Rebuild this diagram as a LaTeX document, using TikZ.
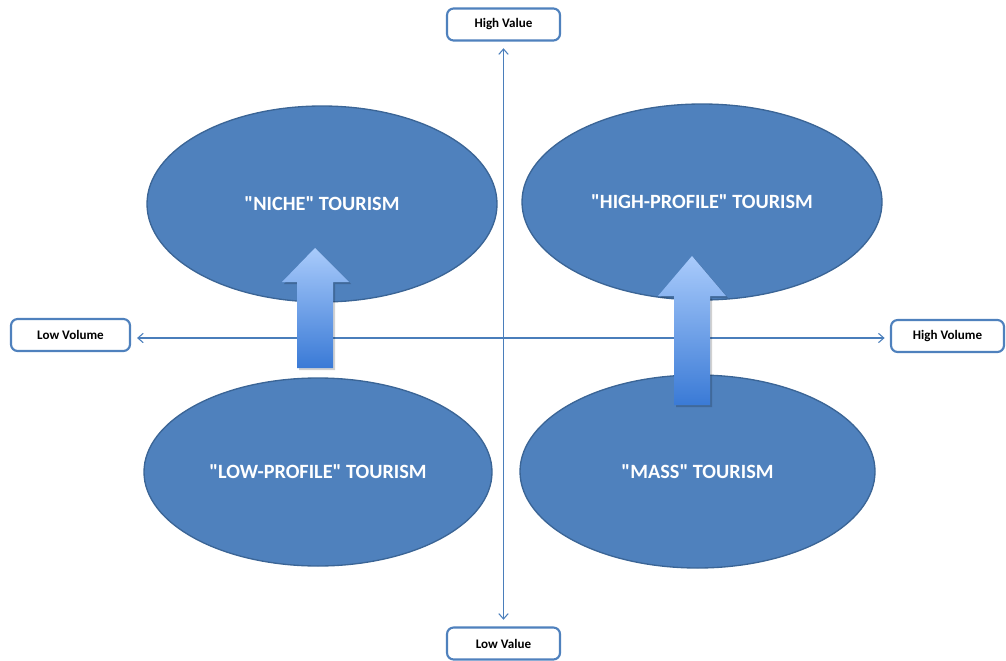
\documentclass[tikz,border=0pt]{standalone}
\usepackage{fontspec}
\setmainfont{Carlito}[Ligatures=TeXOff]
\usetikzlibrary{shapes.geometric,arrows.meta}
\definecolor{ellfill}{HTML}{4F81BD}
\definecolor{elldraw}{HTML}{3B6596}
\definecolor{axiscol}{HTML}{4A7EBB}
\definecolor{boxcol}{HTML}{4F81BD}
\definecolor{arrtop}{HTML}{A9CBFB}
\definecolor{arrbot}{HTML}{3A7AD6}
\tikzset{
  quad/.style={ellipse, fill=ellfill, draw=elldraw, line width=1pt, inner sep=0pt,
    text=white, font=\fontsize{15.2}{18}\selectfont\bfseries},
  axisbox/.style={draw=boxcol, line width=1.6pt, rounded corners=5pt, fill=white,
    minimum width=113*0.75pt, minimum height=32*0.75pt, inner sep=0pt,
    font=\fontsize{9.8}{11}\selectfont\bfseries},
  axisline/.style={draw=axiscol, line width=0.8pt, {Straight Barb[length=4pt,width=7pt]}-{Straight Barb[length=4pt,width=7pt]}},
  uparrow/.style={top color=arrtop, bottom color=arrbot, draw=none},
  arrshadow/.style={fill=black, opacity=0.18}
}
\begin{document}
\begin{tikzpicture}[x=0.75pt,y=-0.75pt]
\useasboundingbox (0,0) rectangle (1006,660);
% ellipses
\node[quad, minimum width=350*0.75pt, minimum height=196*0.75pt] (niche) at (322,204) {"NICHE" TOURISM};
\node[quad, minimum width=360*0.75pt, minimum height=196*0.75pt] (high) at (702,202) {"HIGH-PROFILE" TOURISM};
\node[quad, minimum width=348*0.75pt, minimum height=188*0.75pt] (low) at (318,472) {"LOW-PROFILE" TOURISM};
\node[quad, minimum width=355*0.75pt, minimum height=193*0.75pt] (mass) at (697.5,471.5) {"MASS" TOURISM};
% axis boxes
\node[axisbox] (hv) at (503.5,24.5) {High Value};
\node[axisbox] (lv) at (503.5,643.5) {Low Value};
\node[axisbox, minimum width=119*0.75pt] (lvol) at (70.5,335) {Low Volume};
\node[axisbox] (hvol) at (947.5,336) {High Volume};
% axes
\draw[axisline, shorten <=5pt, shorten >=5pt] (hv.south) -- (lv.north);
\draw[axisline, shorten <=4.5pt, shorten >=4pt] (lvol.east |- 0,338) -- (hvol.west |- 0,338);
% up arrows
\coordinate (a1tip) at (315,248);
\coordinate (a2tip) at (692,256);
\fill[arrshadow] (299,370) -- (335,370) -- (335,284) -- (351,284) -- (317,250) -- (284,284) -- (299,284) -- cycle;
\shade[uparrow] (297,368) -- (333,368) -- (333,282) -- (349,282) -- (a1tip) -- (282,282) -- (297,282) -- cycle;
\fill[arrshadow] (676,407) -- (712,407) -- (712,298) -- (728,298) -- (694,258) -- (660,298) -- (676,298) -- cycle;
\shade[uparrow] (674,405) -- (710,405) -- (710,296) -- (726,296) -- (a2tip) -- (658,296) -- (674,296) -- cycle;
\end{tikzpicture}
\end{document}
